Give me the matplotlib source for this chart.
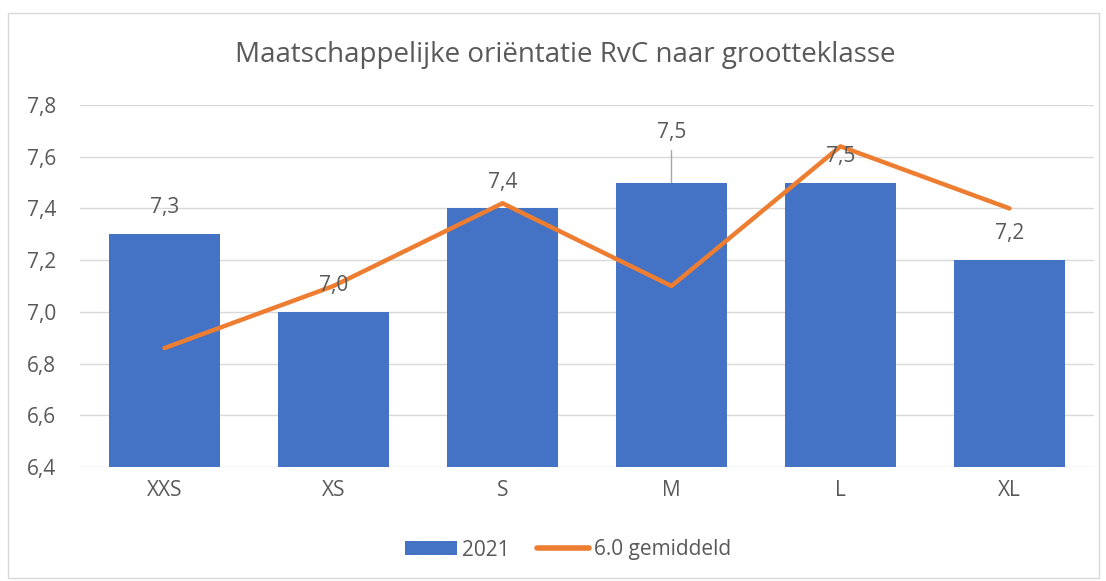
import matplotlib
matplotlib.use("Agg")
import matplotlib.pyplot as plt
from matplotlib.patches import Rectangle
import numpy as np

categories = ["XXS", "XS", "S", "M", "L", "XL"]
values_2021 = [7.3, 7.0, 7.4, 7.5, 7.5, 7.2]
values_avg = [6.86, 7.10, 7.42, 7.10, 7.64, 7.40]
yticks = [6.4, 6.6, 6.8, 7.0, 7.2, 7.4, 7.6, 7.8]

plt.rcParams['font.family'] = ['Open Sans', 'DejaVu Sans']
TXT = '#595959'
FS = 15
W, H = 1106, 581
fig = plt.figure(figsize=(W/100, H/100), dpi=100)
fig.patches.append(Rectangle((8/W, 1-578/H), (1099-8)/W, (578-13)/H, transform=fig.transFigure,
                             fill=False, edgecolor='#D9D9D9', linewidth=1))
ax = fig.add_axes([80/W, 1-467/H, (1094-80)/W, (467-105)/H])
x = np.arange(len(categories))
bars = ax.bar(x, values_2021, width=0.66, color='#4472C4', zorder=2, label='2021')
line, = ax.plot(x, values_avg, color='#ED7D31', linewidth=3.2, solid_capstyle='round', zorder=3,
                label='6.0 gemiddeld')
ax.set_ylim(6.4, 7.8)
ax.set_xlim(-0.5, len(categories)-0.5)
ax.set_yticks(yticks)
ax.set_yticklabels([f"{v:.1f}".replace('.', ',') for v in yticks])
ax.set_xticks(x)
ax.set_xticklabels(categories)
ax.tick_params(axis='both', length=0, labelsize=FS, colors=TXT)
ax.tick_params(axis='y', pad=17)
ax.tick_params(axis='x', pad=9)
for s in ax.spines.values():
    s.set_visible(False)
ax.yaxis.grid(True, color='#D9D9D9', linewidth=1, zorder=0)
ax.set_axisbelow(True)

for i, v in enumerate(values_2021):
    lbl = f"{v:.1f}".replace('.', ',')
    if categories[i] == 'M':
        ax.annotate(lbl, xy=(i, v), xytext=(0, 36), textcoords='offset points', ha='center', va='center',
                    fontsize=FS, color=TXT, zorder=4)
        ax.annotate('', xy=(i, v), xytext=(0, 23), textcoords='offset points',
                    arrowprops=dict(arrowstyle='-', color='#A6A6A6', lw=1, shrinkA=0, shrinkB=0), zorder=1)
    else:
        ax.annotate(lbl, xy=(i, v), xytext=(0, 19), textcoords='offset points', ha='center', va='center',
                    fontsize=FS, color=TXT, zorder=4)

fig.text(565/W, 1-55/H, "Maatschappelijke oriëntatie RvC naar grootteklasse",
         ha='center', va='center', fontsize=20, color=TXT)
leg = fig.legend(handles=[bars, line], labels=['2021', '6.0 gemiddeld'], loc='center',
                 bbox_to_anchor=(568/W, 1-550/H), ncol=2, frameon=False,
                 fontsize=FS, handlelength=2.5, handleheight=0.65, columnspacing=1.3, handletextpad=0.25)
for t in leg.get_texts():
    t.set_color(TXT)
leg.get_lines()[0].set_linewidth(4) if leg.get_lines() else None
fig.savefig("out.png", dpi=100)
